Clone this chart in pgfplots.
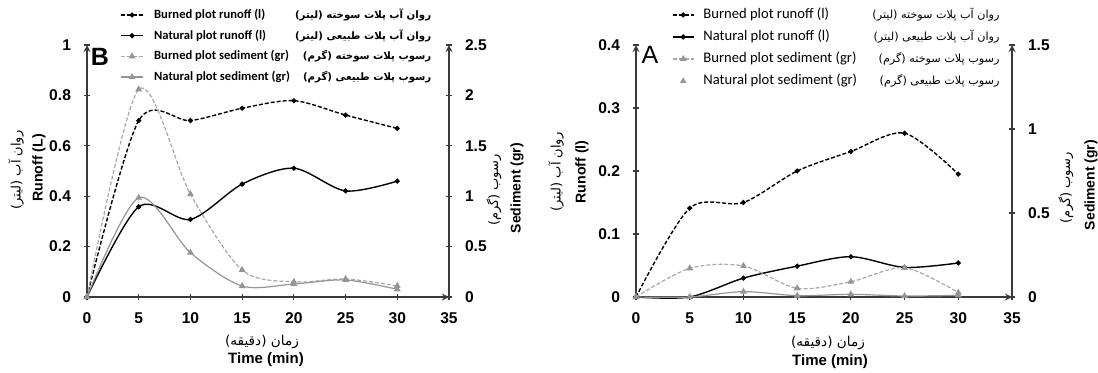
\documentclass[border=0pt]{standalone}
\usepackage{pgfplots}
\pgfplotsset{compat=1.18}
\usepackage{fontspec}
\setmainfont{Liberation Sans}
\newfontfamily\calfont{Carlito}
\newfontfamily\fa[Script=Arabic]{DejaVu Sans}
\TeXXeTstate=1
\newcommand\FA[1]{{\fa\beginR #1\endR}}
\definecolor{sedL}{HTML}{A8A8A8}
\definecolor{sedD}{HTML}{959595}
\definecolor{axc}{HTML}{3A3A3A}

\pgfplotsset{
  base/.style={scale only axis, anchor=south west, xmin=0, xmax=35, clip=false,
    /pgf/number format/assume math mode=true,
    ticklabel style={font=\bfseries\fontsize{7.8}{9}\selectfont},
    xticklabel style={yshift=-3pt},
    axis line style={-, line width=0.6pt, axc},
    major tick style={line width=0.6pt, axc},
    major tick length=3pt, tick align=outside},
  bur run/.style={black, line width=0.7pt, dash pattern=on 2pt off 1pt, smooth, tension=0.5, mark=*, mark size=0.9pt, mark options={solid}},
  nat run/.style={black, line width=0.7pt, smooth, tension=0.5, mark=*, mark size=0.9pt},
  bur sed/.style={sedL, line width=0.6pt, dash pattern=on 2pt off 1pt, smooth, tension=0.5, mark=triangle*, mark size=1.4pt, mark options={solid, fill=sedD, draw=sedD}},
  nat sed/.style={sedD, line width=0.6pt, smooth, tension=0.5, mark=triangle*, mark size=1.4pt},
  nat sed mark/.style={sedD, only marks, mark=triangle*, mark size=1.4pt},
}

\begin{document}
\begin{tikzpicture}
\path[use as bounding box] (0,0) rectangle (549pt,186pt);

% ---------------- Panel B ----------------
\begin{axis}[base, width=181pt, height=126pt, at={(43.5pt,37.5pt)},
  ymin=0, ymax=1, axis x line=bottom, axis y line=left,
  yticklabel style={xshift=-3pt},
  xtick={0,5,10,15,20,25,30,35}, ytick={0,0.2,0.4,0.6,0.8,1}]
\addplot[bur run] coordinates {(0,0)(5,0.70)(10,0.70)(15,0.749)(20,0.779)(25,0.722)(30,0.669)};
\addplot[nat run] coordinates {(0,0)(5,0.358)(10,0.308)(15,0.448)(20,0.511)(25,0.421)(30,0.46)};
\end{axis}
\begin{axis}[base, width=181pt, height=126pt, at={(43.5pt,37.5pt)},
  ymin=0, ymax=2.5, axis x line=none, axis y line=right, tick align=center,
  yticklabel style={xshift=3pt},
  ytick={0,0.5,1,1.5,2,2.5},
  legend cell align=left,
  legend image code/.code={\draw[mark repeat=2,mark phase=2] plot coordinates {(0cm,0cm) (0.2cm,0cm) (0.4cm,0cm)};},
  legend style={draw=none, fill=none, inner sep=0pt, outer sep=0pt,
    at={(axis description cs:0.0912,1.145)}, anchor=north west,
    row sep=3.85pt, column sep=5pt,
    nodes={inner sep=0pt, text height=5pt, text depth=1.5pt,
      font=\calfont\bfseries\fontsize{6.3}{7}\selectfont}}]
\addlegendimage{bur run}
\addlegendentry{\makebox[71pt][l]{Burned plot runoff (l)}\makebox[67.5pt][r]{\fontsize{5.1}{6}\FA{روان آب پلات سوخته (لیتر)}}}
\addlegendimage{nat run}
\addlegendentry{\makebox[71pt][l]{Natural plot runoff (l)}\makebox[67.5pt][r]{\fontsize{5.1}{6}\FA{روان آب پلات طبیعی (لیتر)}}}
\addplot[bur sed] coordinates {(0,0)(5,2.06)(10,1.02)(15,0.268)(20,0.15)(25,0.179)(30,0.11)};
\addlegendentry{\makebox[71pt][l]{Burned plot sediment (gr)}\makebox[67.5pt][r]{\fontsize{5.1}{6}\FA{رسوب پلات سوخته (گرم)}}}
\addplot[nat sed] coordinates {(0,0)(5,0.985)(10,0.44)(15,0.109)(20,0.129)(25,0.169)(30,0.076)};
\addlegendentry{\makebox[71pt][l]{Natural plot sediment (gr)}\makebox[67.5pt][r]{\fontsize{5.1}{6}\FA{رسوب پلات طبیعی (گرم)}}}
\end{axis}

% ---------------- Panel A ----------------
\begin{axis}[base, width=188pt, height=126pt, at={(318pt,37.5pt)},
  ymin=0, ymax=0.4, axis x line=bottom, axis y line=left,
  yticklabel style={xshift=-3pt},
  xtick={0,5,10,15,20,25,30,35}, ytick={0,0.1,0.2,0.3,0.4}]
\addplot[bur run] coordinates {(0,0)(5,0.141)(10,0.150)(15,0.200)(20,0.231)(25,0.260)(30,0.195)};
\addplot[nat run] coordinates {(0,0)(5,0)(10,0.030)(15,0.049)(20,0.064)(25,0.047)(30,0.054)};
\end{axis}
\begin{axis}[base, width=188pt, height=126pt, at={(318pt,37.5pt)},
  ymin=0, ymax=1.5, axis x line=none, axis y line=right, tick align=center,
  yticklabel style={xshift=3pt},
  ytick={0,0.5,1,1.5},
  legend cell align=left,
  legend image code/.code={\draw[mark repeat=2,mark phase=2] plot coordinates {(0cm,0cm) (0.185cm,0cm) (0.37cm,0cm)};},
  legend style={draw=none, fill=none, inner sep=0pt, outer sep=0pt,
    at={(axis description cs:0.0957,1.145)}, anchor=north west,
    row sep=4.5pt, column sep=4.5pt,
    nodes={inner sep=0pt, text height=5pt, text depth=1.5pt,
      font=\calfont\fontsize{7.3}{8}\selectfont}}]
\addlegendimage{bur run}
\addlegendentry{\makebox[80pt][l]{Burned plot runoff (l)}\makebox[68pt][r]{\fontsize{5.6}{6}\FA{روان آب پلات سوخته (لیتر)}}}
\addlegendimage{nat run}
\addlegendentry{\makebox[80pt][l]{Natural plot runoff (l)}\makebox[68pt][r]{\fontsize{5.6}{6}\FA{روان آب پلات طبیعی (لیتر)}}}
\addplot[bur sed] coordinates {(0,0)(5,0.171)(10,0.185)(15,0.052)(20,0.091)(25,0.174)(30,0.026)};
\addlegendentry{\makebox[80pt][l]{Burned plot sediment (gr)}\makebox[68pt][r]{\fontsize{5.6}{6}\FA{رسوب پلات سوخته (گرم)}}}
\addlegendimage{nat sed mark}
\addlegendentry{\makebox[80pt][l]{Natural plot sediment (gr)}\makebox[68pt][r]{\fontsize{5.6}{6}\FA{رسوب پلات طبیعی (گرم)}}}
\addplot[nat sed, forget plot] coordinates {(0,0)(5,0)(10,0.032)(15,0.008)(20,0.016)(25,0.006)(30,0.01)};
\end{axis}

% ---------------- labels (pixel coordinates) ----------------
\begin{scope}[x=0.5pt, y=-0.5pt, yshift=186pt]
\node[font=\bfseries\fontsize{12.5}{14}\selectfont] at (100,57) {B};
\node[font=\fontsize{12.5}{14}\selectfont] at (650,55) {A};
% B labels
\node[font=\fontsize{6.8}{8}\selectfont] at (262,342) {\FA{زمان (دقیقه)}};
\node[font=\bfseries\fontsize{7.5}{9}\selectfont] at (266,360) {Time (min)};
\node[rotate=90, font=\fontsize{6.5}{8}\selectfont] at (16,170) {\FA{روان آب (لیتر)}};
\node[rotate=90, font=\bfseries\fontsize{7.1}{9}\selectfont] at (39,168) {Runoff (L)};
\node[rotate=90, font=\fontsize{6.5}{8}\selectfont] at (494,190) {\FA{رسوب (گرم)}};
\node[rotate=90, font=\bfseries\fontsize{7}{9}\selectfont] at (517,188) {Sediment (gr)};
% A labels
\node[font=\fontsize{6.8}{8}\selectfont] at (828,343) {\FA{زمان (دقیقه)}};
\node[font=\bfseries\fontsize{7.5}{9}\selectfont] at (830,362) {Time (min)};
\node[rotate=90, font=\fontsize{6.5}{8}\selectfont] at (556,172) {\FA{روان آب (لیتر)}};
\node[rotate=90, font=\bfseries\fontsize{7.1}{9}\selectfont] at (582,172) {Runoff (l)};
\node[rotate=90, font=\fontsize{6.5}{8}\selectfont] at (1066,188) {\FA{رسوب (گرم)}};
\node[rotate=90, font=\bfseries\fontsize{7}{9}\selectfont] at (1091,185) {Sediment (gr)};
\end{scope}
\end{tikzpicture}
\end{document}
